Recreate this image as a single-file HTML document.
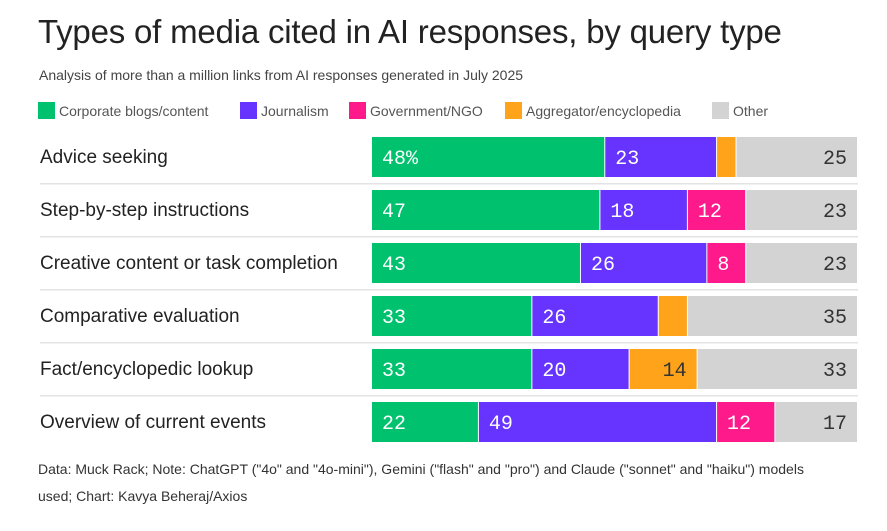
<!DOCTYPE html>
<html><head><meta charset="utf-8"><style>
body{margin:0;background:#fff;width:887px;height:531px;overflow:hidden;font-family:"Liberation Sans",sans-serif;}
#title{position:absolute;left:38px;top:13px;font-size:33px;color:#222;letter-spacing:-0.2px;font-weight:500;}
#sub{position:absolute;left:39px;top:67px;font-size:14px;color:#444;}
.lg{position:absolute;top:102px;font-size:14px;color:#555;display:flex;align-items:center;}
.lg i{display:inline-block;width:17px;height:17px;margin-right:4px;}
#foot{position:absolute;left:38px;top:456px;font-size:14px;color:#333;line-height:27px;width:800px;}
</style></head><body>
<div id="title">Types of media cited in AI responses, by query type</div>
<div id="sub">Analysis of more than a million links from AI responses generated in July 2025</div>
<div class="lg" style="left:38px"><i style="background:#00c16e"></i>Corporate blogs/content</div>
<div class="lg" style="left:240px"><i style="background:#6633ff"></i>Journalism</div>
<div class="lg" style="left:349px"><i style="background:#ff1a8c"></i>Government/NGO</div>
<div class="lg" style="left:505px"><i style="background:#ffa31a"></i>Aggregator/encyclopedia</div>
<div class="lg" style="left:712px"><i style="background:#d3d3d3"></i>Other</div>
<svg id="chart" width="887" height="531" style="position:absolute;left:0;top:0"></svg>
<div id="foot">Data: Muck Rack; Note: ChatGPT ("4o" and "4o-mini"), Gemini ("flash" and "pro") and Claude ("sonnet" and "haiku") models used; Chart: Kavya Beheraj/Axios</div>
<script>
const categories=["Advice seeking","Step-by-step instructions","Creative content or task completion","Comparative evaluation","Fact/encyclopedic lookup","Overview of current events"];
const corporate=[48,47,43,33,33,22];
const journalism=[23,18,26,26,20,49];
const government=[0,12,8,0,0,12];
const aggregator=[4,0,0,6,14,0];
const other=[25,23,23,35,33,17];
const series=[["corporate",corporate,"#00c16e","#fff"],["journalism",journalism,"#6633ff","#fff"],["government",government,"#ff1a8c","#fff"],["aggregator",aggregator,"#ffa31a","#333"],["other",other,"#d3d3d3","#333"]];
const NS="http://www.w3.org/2000/svg";
const svg=document.getElementById('chart');
const x0=372,x1=858;
const xs=v=>x0+v/100*(x1-x0);
const rowY=i=>137+i*53;
function mk(t,a){const e=document.createElementNS(NS,t);for(const k in a)e.setAttribute(k,a[k]);svg.appendChild(e);return e;}
categories.forEach((c,i)=>{
  const y=rowY(i);
  const t=mk('text',{x:40,y:y+26,'font-size':19,fill:'#222','font-family':'Liberation Sans, sans-serif'});
  t.textContent=c;
  
  
  if(i<categories.length-1){
    const l=mk('rect',{x:40,y:y+46,width:818,height:1.5,fill:'#e3e3e3'});
    
    
  }
  let cum=0;
  series.forEach(([name,arr,col,tc],si)=>{
    const v=arr[i];
    if(v<=0)return;
    const a=xs(cum),b=xs(cum+v);cum+=v;
    const r=mk('rect',{x:a,y:y,width:Math.max(b-a-1,1),height:40,fill:col});
    
    
    if(v<7)return;
    const right=(name==='other'||name==='aggregator');
    const tx=mk('text',{x:right?b-11:a+10,y:y+27,'font-size':20,fill:tc,'font-family':'Liberation Mono, monospace','text-anchor':right?'end':'start'});
    tx.textContent=v+(i===0&&si===0?'%':'');
    
    
  });
});
</script>
</body></html>
